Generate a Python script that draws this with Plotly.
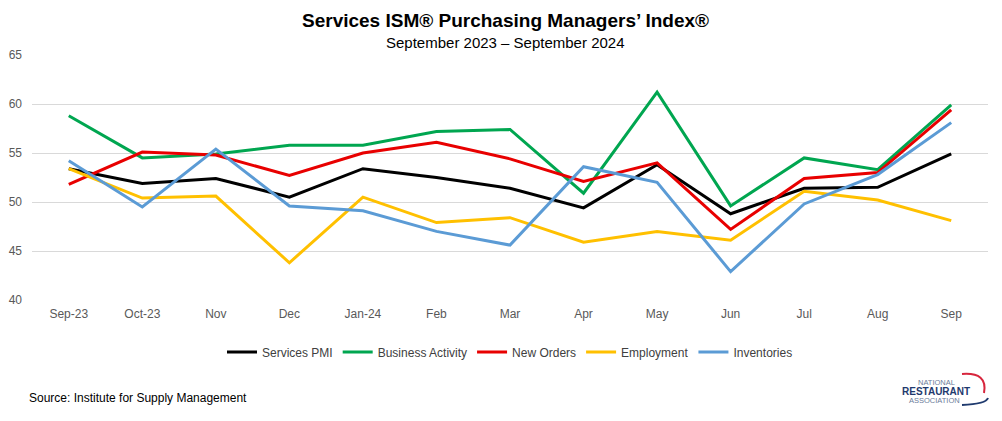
import plotly.graph_objects as go

categories = ["Sep-23", "Oct-23", "Nov", "Dec", "Jan-24", "Feb", "Mar", "Apr", "May", "Jun", "Jul", "Aug", "Sep"]
services_pmi = [53.4, 51.9, 52.4, 50.5, 53.4, 52.5, 51.4, 49.4, 53.8, 48.8, 51.4, 51.5, 54.9]
business_activity = [58.8, 54.5, 54.9, 55.8, 55.8, 57.2, 57.4, 50.9, 61.2, 49.6, 54.5, 53.3, 59.9]
new_orders = [51.8, 55.1, 54.8, 52.7, 55.0, 56.1, 54.4, 52.1, 54.0, 47.2, 52.4, 53.0, 59.4]
employment = [53.4, 50.4, 50.6, 43.8, 50.5, 47.9, 48.4, 45.9, 47.0, 46.1, 51.1, 50.2, 48.1]
inventories = [54.2, 49.5, 55.4, 49.6, 49.1, 47.0, 45.6, 53.6, 52.0, 42.9, 49.8, 52.8, 58.1]

series = [
    ("Services PMI", services_pmi, "#000000"),
    ("Business Activity", business_activity, "#00A650"),
    ("New Orders", new_orders, "#E80000"),
    ("Employment", employment, "#FFC000"),
    ("Inventories", inventories, "#5B9BD5"),
]

fig = go.Figure()
for name, vals, color in series:
    fig.add_trace(go.Scatter(x=categories, y=vals, name=name, mode="lines",
                             line=dict(color=color, width=3)))

font = "Liberation Sans, Arial, sans-serif"
W, H = 1002, 421
l, r, t, b = 32, 14, 55, 121
pw, ph = W - l - r, H - t - b


def px(x, y):
    return (x - l) / pw, 1 - (y - t) / ph


def ann(text, x, y, size, color, xanchor="center"):
    ax, ay = px(x, y)
    return dict(text=text, x=ax, y=ay, xref="paper", yref="paper", showarrow=False,
                xanchor=xanchor, yanchor="middle",
                font=dict(size=size, color=color, family=font))


lx, ly = px(0, 352)
fig.update_layout(
    width=W, height=H,
    margin=dict(l=l, r=r, t=t, b=b, autoexpand=False),
    paper_bgcolor="white", plot_bgcolor="white",
    font=dict(family=font, size=12, color="#595959"),
    showlegend=True,
    legend=dict(orientation="h", x=0.5, xanchor="center", y=ly, yanchor="middle",
                font=dict(size=12, color="#404040"), itemwidth=30, tracegroupgap=0),
    xaxis=dict(type="category", range=[-0.5, 12.5], showgrid=False, zeroline=False,
               showline=False, ticks="", ticklabelstandoff=5, automargin=False,
               tickfont=dict(size=12, color="#595959")),
    yaxis=dict(range=[40, 65], dtick=5, showgrid=True, gridcolor="#D9D9D9", gridwidth=1,
               zeroline=False, showline=False, ticks="", ticklabelstandoff=9, automargin=False,
               tickfont=dict(size=12, color="#595959")),
    annotations=[
        ann("<b>Services ISM® Purchasing Managers’ Index®</b>", 505, 20, 19, "#000000"),
        ann("September 2023 – September 2024", 505, 42, 15, "#000000"),
        ann("Source: Institute for Supply Management", 27, 398, 12, "#000000", "left"),
        ann("NATIONAL", 936, 382.5, 7.5, "#6B7C99"),
        ann("<b>RESTAURANT</b>", 936, 391.5, 10, "#1F3A6E"),
        ann("ASSOCIATION", 934, 400.5, 7.5, "#6B7C99"),
    ],
)

# logo swoosh (decorative)
x0, y0 = px(962, 374)
x1, y1 = px(988, 372)
x2, y2 = px(984, 393)
fig.add_shape(type="path", xref="paper", yref="paper",
              path=f"M {x0} {y0} Q {x1} {y1} {x2} {y2}",
              line=dict(color="#D7263D", width=2))
x3, y3 = px(962, 405)
x4, y4 = px(986, 404)
x5, y5 = px(988, 398)
fig.add_shape(type="path", xref="paper", yref="paper",
              path=f"M {x3} {y3} Q {x4} {y4} {x5} {y5}",
              line=dict(color="#1F3A6E", width=2))

fig.write_html("out.html", post_script="document.body.style.margin='0';",
               config={"displayModeBar": False})
